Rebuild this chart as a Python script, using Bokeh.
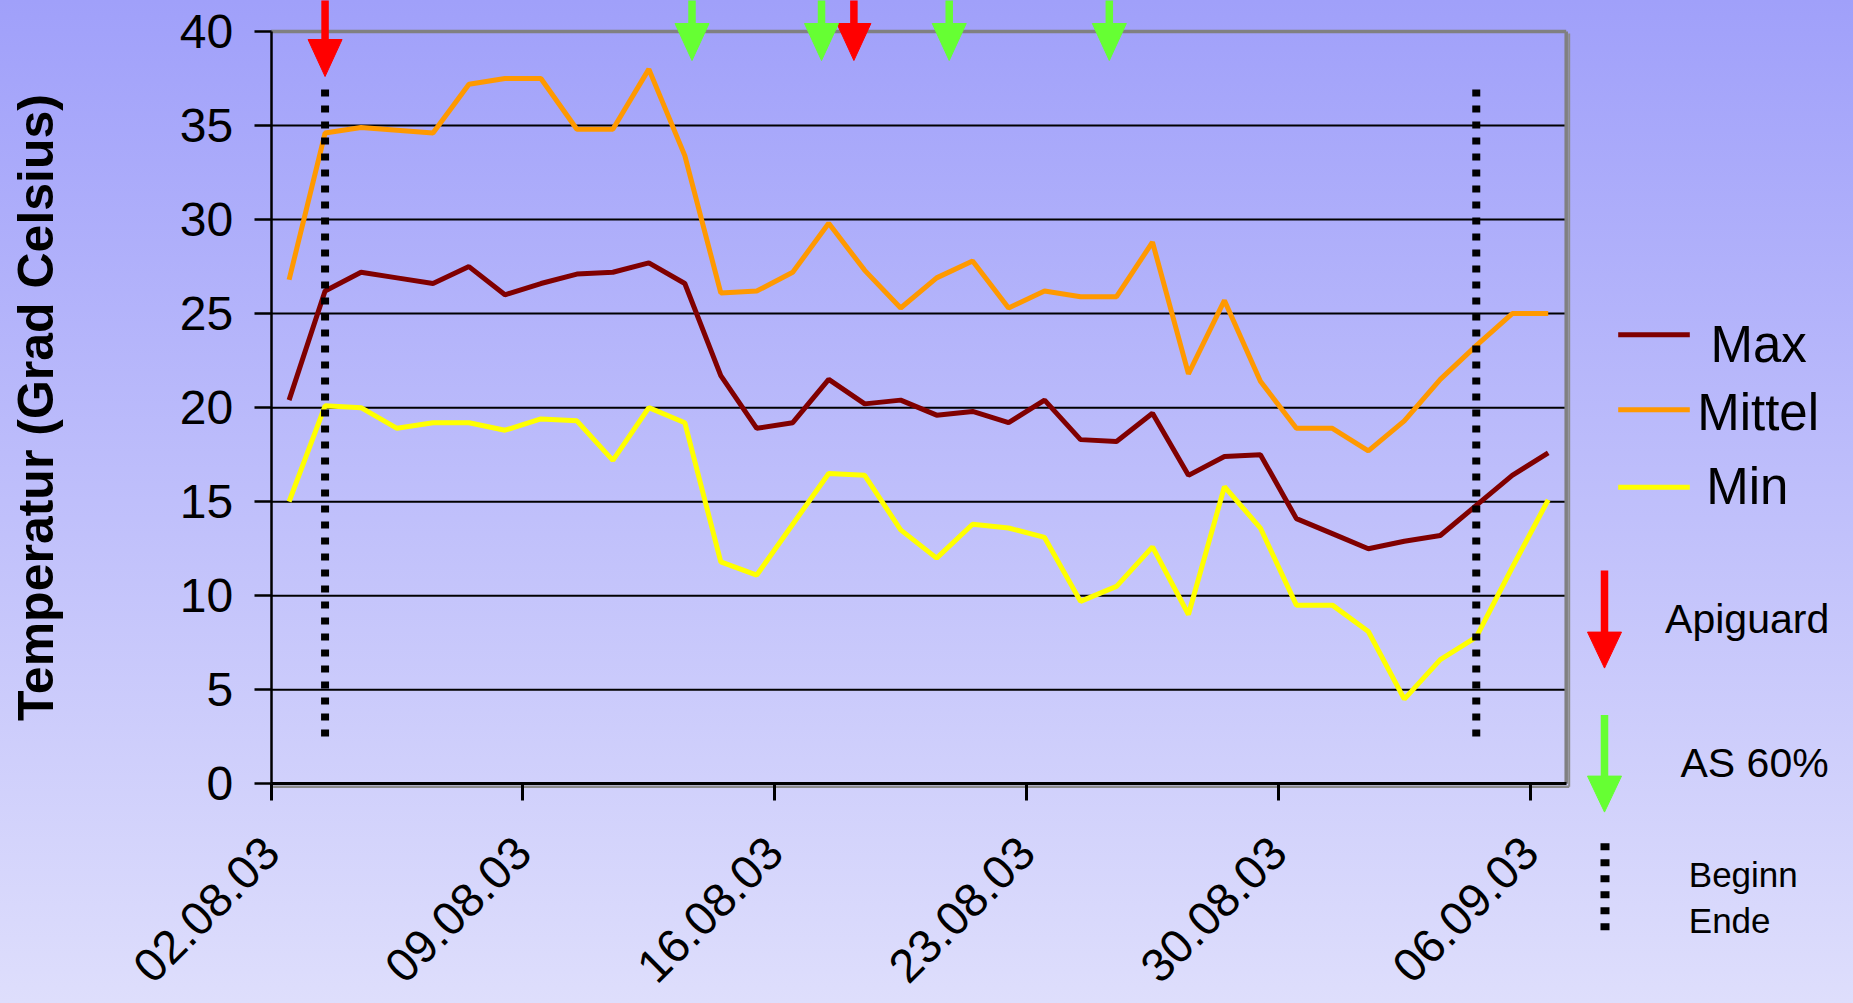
import math
from bokeh.plotting import figure
from bokeh.models import (Range1d, FixedTicker, Label, LinearAxis, ColumnDataSource)
from bokeh.embed import file_html
from bokeh.resources import INLINE

# ---------------- data ----------------
# daily values, 02.08.2003 .. 06.09.2003 (day 0 = 02.08.03)
day_index = list(range(36))
max_temp = [20.4, 26.2, 27.2, 26.9, 26.6, 27.5, 26.0, 26.6, 27.1, 27.2,
            27.7, 26.6, 21.7, 18.9, 19.2, 21.5, 20.2, 20.4, 19.6, 19.8,
            19.2, 20.4, 18.3, 18.2, 19.7, 16.4, 17.4, 17.5, 14.1, 13.3,
            12.5, 12.9, 13.2, 14.8, 16.4, 17.6]
mittel_temp = [26.8, 34.6, 34.9, 34.75, 34.6, 37.2, 37.5, 37.5, 34.8, 34.8,
               38.0, 33.4, 26.1, 26.2, 27.2, 29.8, 27.3, 25.3, 26.9, 27.8,
               25.3, 26.2, 25.9, 25.9, 28.8, 21.8, 25.7, 21.4, 18.9, 18.9,
               17.7, 19.3, 21.5, 23.3, 25.0, 25.0]
min_temp = [15.0, 20.1, 20.0, 18.9, 19.2, 19.2, 18.8, 19.4, 19.3, 17.2,
            20.0, 19.2, 11.8, 11.1, 13.8, 16.5, 16.4, 13.5, 12.0, 13.8,
            13.6, 13.1, 9.7, 10.5, 12.6, 9.0, 15.8, 13.6, 9.5, 9.5,
            8.1, 4.5, 6.6, 7.8, 11.5, 15.1]

y_ticks = [0, 5, 10, 15, 20, 25, 30, 35, 40]
x_tick_days = [0, 7, 14, 21, 28, 35]
x_tick_labels = ["02.08.03", "09.08.03", "16.08.03", "23.08.03", "30.08.03", "06.09.03"]

# treatment events (days after 02.08.03)
apiguard_days = [1.5, 16.2]
as60_days = [11.7, 15.3, 18.85, 23.3]
beginn_ende_days = [1.5, 33.5]

# ---------------- layout (page pixels) ----------------
W, H = 1853, 1003
FL, FR, FT, FB = 270.6, 1565.7, 31.0, 783.3     # plot area in page pixels
X_MAX, Y_MAX = 36.0, 40.0
PXX = (FR - FL) / X_MAX      # px per day
PXY = (FB - FT) / Y_MAX      # px per degree


def fx(px):
    return (px - FL) / PXX


def fy(py):
    return (FB - py) / PXY


p = figure(width=W, height=H, output_backend="svg", toolbar_location=None,
           x_range=Range1d(fx(0), fx(W)), y_range=Range1d(fy(H), fy(0)),
           x_axis_location=None, y_axis_location=None)
p.min_border_left = 0
p.min_border_right = 0
p.min_border_top = 0
p.min_border_bottom = 0
p.border_fill_color = None
p.background_fill_color = None
p.outline_line_color = None
p.xgrid.visible = False
p.ygrid.visible = False
p.styles = {"background-image": "linear-gradient(to bottom, #a0a0fa, #dedefc)"}

FONT = "Liberation Sans"

# ---------------- axes ----------------
yaxis = LinearAxis(fixed_location=0, bounds=(0, Y_MAX), ticker=FixedTicker(ticks=y_ticks))
yaxis.axis_line_width = 2.5
yaxis.major_tick_line_width = 2.5
yaxis.major_tick_out = 17
yaxis.major_tick_in = 0
yaxis.minor_tick_line_color = None
yaxis.major_label_text_font = FONT
yaxis.major_label_text_font_size = "48px"
yaxis.major_label_text_color = "black"
yaxis.major_label_standoff = 21
yaxis.axis_label = "Temperatur (Grad Celsius)"
yaxis.axis_label_text_font = FONT
yaxis.axis_label_text_font_size = "50px"
yaxis.axis_label_text_font_style = "bold"
yaxis.axis_label_text_color = "black"
yaxis.axis_label_standoff = 113
p.add_layout(yaxis, "left")

xaxis = LinearAxis(fixed_location=0, bounds=(0, X_MAX), ticker=FixedTicker(ticks=x_tick_days))
xaxis.major_label_overrides = {d: lab for d, lab in zip(x_tick_days, x_tick_labels)}
xaxis.axis_line_width = 3
xaxis.major_tick_line_width = 3
xaxis.major_tick_out = 17
xaxis.major_tick_in = 0
xaxis.minor_tick_line_color = None
xaxis.major_label_text_font = FONT
xaxis.major_label_text_font_size = "47px"
xaxis.major_label_text_color = "black"
xaxis.major_label_orientation = math.pi / 4
xaxis.major_label_standoff = 44
p.add_layout(xaxis, "below")

# ---------------- grid & frame ----------------
grid_y = y_ticks[1:-1]
p.segment(x0=[0] * len(grid_y), x1=[X_MAX] * len(grid_y), y0=grid_y, y1=grid_y,
          line_color="black", line_width=2)
# gray frame border (top, right) and small shadow under the x axis
p.segment(x0=[0, X_MAX], y0=[Y_MAX, 0], x1=[X_MAX, X_MAX], y1=[Y_MAX, Y_MAX],
          line_color="#808080", line_width=3.5)
p.segment(x0=[fx(FL + 2)], y0=[fy(FB + 3)], x1=[fx(FR + 3)], y1=[fy(FB + 3)],
          line_color="#8c8c8c", line_width=2.5)
p.segment(x0=[fx(FR + 3)], y0=[fy(FB + 3)], x1=[fx(FR + 3)], y1=[fy(FT + 2)],
          line_color="#8c8c8c", line_width=2)

# ---------------- series ----------------
xs = [d + 0.5 for d in day_index]
src = ColumnDataSource(dict(x=xs, mx=max_temp, mi=mittel_temp, mn=min_temp))
COL_MAX, COL_MIT, COL_MIN = "#800000", "#ff9900", "#ffff00"
p.line("x", "mx", source=src, line_color=COL_MAX, line_width=5)
p.line("x", "mi", source=src, line_color=COL_MIT, line_width=5)
p.line("x", "mn", source=src, line_color=COL_MIN, line_width=5)

# Beginn / Ende dotted lines
p.segment(x0=beginn_ende_days, y0=[fy(89)] * 2, x1=beginn_ende_days, y1=[fy(738)] * 2,
          line_color="black", line_width=8, line_dash="7 9")

RED, GREEN = "#ff0000", "#66ff33"


def arrow(x, top_py, tip_py, color, head_len=37, head_w=34, shaft_w=7.5):
    """vertical down arrow; x in data units, vertical positions in page px"""
    base_py = tip_py - head_len
    p.segment(x0=[x], y0=[fy(top_py)], x1=[x], y1=[fy(base_py + 1)],
              line_color=color, line_width=shaft_w)
    hw = head_w / 2 / PXX
    p.patch(x=[x - hw, x + hw, x], y=[fy(base_py), fy(base_py), fy(tip_py)],
            fill_color=color, line_color=color, line_width=1)


def label(text, px, base_py, size):
    # baseline placement (empirical correction of ~0.37 em)
    p.add_layout(Label(x=fx(px), y=fy(base_py - 0.37 * size), text=text, text_font=FONT,
                       text_color="black", text_font_size=f"{size}px",
                       text_baseline="alphabetic", text_align="left"))


# treatment arrows at top
for i, d in enumerate(apiguard_days):
    arrow(d, -2, 76 if i == 0 else 60, RED)
for d in as60_days:
    arrow(d, -2, 60, GREEN)

# ---------------- legend ----------------
for name, col, ly, tx, base in [("Max", COL_MAX, 334.3, 1710, 362.7),
                                ("Mittel", COL_MIT, 409.3, 1696.7, 431),
                                ("Min", COL_MIN, 486.7, 1705.7, 505)]:
    p.segment(x0=[fx(1617.7)], y0=[fy(ly)], x1=[fx(1689.3)], y1=[fy(ly)],
              line_color=col, line_width=5)
    label(name, tx, base, 51)

arrow(fx(1604), 570, 667.6, RED, head_len=36)
label("Apiguard", 1664.6, 634, 41)
arrow(fx(1604), 714.5, 811.6, GREEN, head_len=36)
label("AS 60%", 1680, 778, 41)

p.segment(x0=[fx(1604.5)], y0=[fy(842.7)], x1=[fx(1604.5)], y1=[fy(930)],
          line_color="black", line_width=9, line_dash="7 9")
label("Beginn", 1688.3, 886.7, 35)
label("Ende", 1688.3, 932.7, 35)

open("out.html", "w").write(file_html(p, INLINE))
